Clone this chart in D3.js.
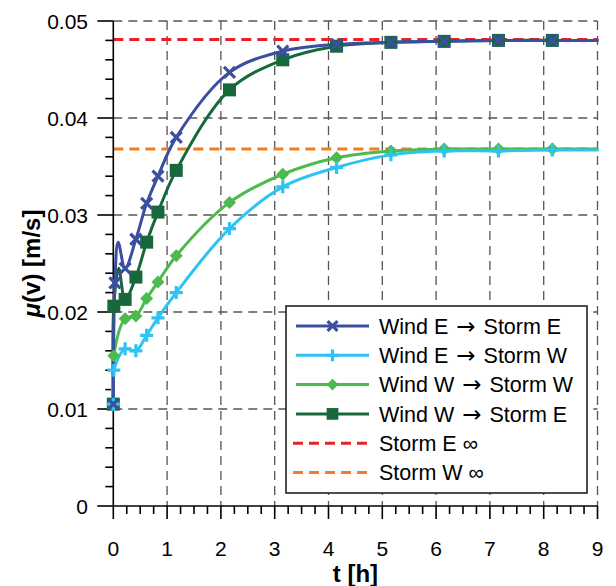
<!DOCTYPE html>
<html>
<head>
<meta charset="utf-8">
<script src="https://cdn.jsdelivr.net/npm/d3@7"></script>
<style>
  html, body { margin: 0; padding: 0; background: #fff; }
  svg { display: block; font-family: "Liberation Sans", Arial, sans-serif; }
</style>
</head>
<body>
<svg id="chart" width="616" height="586"></svg>
<script>
// ---------------- data ----------------
const seriesNames = ["Wind E \u2192 Storm E", "Wind E \u2192 Storm W", "Wind W \u2192 Storm W", "Wind W \u2192 Storm E"];
const refNames = ["Storm E \u221e", "Storm W \u221e"];
const refValues = [0.0481, 0.0368];

// time points (h)
const tEE = [0, 0.03, 0.09, 0.22, 0.42, 0.62, 0.83, 1.17, 2.16, 3.15, 4.15, 5.16, 6.15, 7.16, 8.16, 9.16];
const vEE = [0.0105, 0.0230, 0.0272, 0.0245, 0.0275, 0.0312, 0.0340, 0.0380, 0.0447, 0.0469, 0.0476, 0.0478, 0.0479, 0.0480, 0.0480, 0.0480];
const mEE = [true, true, false, true, true, true, true, true, true, true, true, true, true, true, true, true];

const tEW = [0, 0.01, 0.22, 0.42, 0.62, 0.83, 1.17, 2.16, 3.15, 4.15, 5.16, 6.15, 7.16, 8.16, 9.16];
const vEW = [0.0105, 0.0140, 0.0162, 0.0160, 0.0176, 0.0194, 0.0220, 0.0286, 0.0329, 0.0349, 0.0362, 0.0366, 0.0366, 0.0367, 0.0367];

const tWW = [0, 0.01, 0.22, 0.42, 0.62, 0.83, 1.17, 2.16, 3.15, 4.15, 5.16, 6.15, 7.16, 8.16, 9.16];
const vWW = [0.0105, 0.0155, 0.0193, 0.0196, 0.0214, 0.0231, 0.0258, 0.0313, 0.0342, 0.0359, 0.0366, 0.0368, 0.0368, 0.0368, 0.0368];

const tWE = [0, 0.01, 0.10, 0.22, 0.42, 0.62, 0.83, 1.17, 2.16, 3.15, 4.15, 5.16, 6.15, 7.16, 8.16, 9.16];
const vWE = [0.0105, 0.0206, 0.0245, 0.0213, 0.0236, 0.0272, 0.0303, 0.0346, 0.0429, 0.0460, 0.0474, 0.0478, 0.0479, 0.0480, 0.0480, 0.0480];
const mWE = [true, true, false, true, true, true, true, true, true, true, true, true, true, true, true, true];

const xTicks = [0, 1, 2, 3, 4, 5, 6, 7, 8, 9];
const yTicks = [0, 0.01, 0.02, 0.03, 0.04, 0.05];

// ---------------- layout ----------------
const svg = d3.select("#chart");
const pLeft = 113.3, pRight = 597.5, pTop = 21, pBottom = 506;
const x = d3.scaleLinear().domain([0, 9]).range([pLeft, pRight]);
const y = d3.scaleLinear().domain([0, 0.05]).range([pBottom, pTop]);

const colors = { EE: "#3b4fa0", EW: "#2ec4f1", WW: "#4cba4c", WE: "#17683a", refE: "#e8212b", refW: "#f47b22" };

const mk = (ts, vs, ms) => ts.map((t, i) => ({ t, v: vs[i], m: ms ? ms[i] : true }));
const series = [
  { key: "WE", name: seriesNames[3], data: mk(tWE, vWE, mWE), color: colors.WE, marker: "square" },
  { key: "WW", name: seriesNames[2], data: mk(tWW, vWW), color: colors.WW, marker: "diamond" },
  { key: "EW", name: seriesNames[1], data: mk(tEW, vEW), color: colors.EW, marker: "plus" },
  { key: "EE", name: seriesNames[0], data: mk(tEE, vEE, mEE), color: colors.EE, marker: "x" }
];

// clip only on the right (points beyond t = 9 are cut off)
svg.append("defs").append("clipPath").attr("id", "plotclip")
  .append("rect").attr("x", pLeft - 12).attr("y", pTop - 2).attr("width", pRight - pLeft + 13).attr("height", pBottom - pTop + 14);

// grid
const grid = svg.append("g");
grid.selectAll(".gx").data(xTicks.filter(d => d > 0)).enter().append("line")
  .attr("x1", d => x(d)).attr("x2", d => x(d)).attr("y1", pTop).attr("y2", pBottom)
  .attr("stroke", "#555").attr("stroke-width", 1.3).attr("stroke-dasharray", "9,6");
grid.selectAll(".gy").data(yTicks.filter(d => d > 0)).enter().append("line")
  .attr("x1", pLeft).attr("x2", pRight).attr("y1", d => y(d)).attr("y2", d => y(d))
  .attr("stroke", "#555").attr("stroke-width", 1.3).attr("stroke-dasharray", "9,6");

// reference lines
const refColors = [colors.refE, colors.refW];
svg.append("g").selectAll("line").data(refValues).enter().append("line")
  .attr("x1", pLeft).attr("x2", pRight).attr("y1", d => y(d)).attr("y2", d => y(d))
  .attr("stroke", (d, i) => refColors[i]).attr("stroke-width", 3).attr("stroke-dasharray", "10,6");

// axes lines (under the series)
const ax = svg.append("g");
ax.append("line").attr("x1", pLeft).attr("x2", pLeft).attr("y1", pTop).attr("y2", pBottom).attr("stroke", "#000").attr("stroke-width", 1.6);
ax.append("line").attr("x1", pLeft).attr("x2", pRight).attr("y1", pBottom).attr("y2", pBottom).attr("stroke", "#000").attr("stroke-width", 1.6);

// marker drawing
function drawMarker(g, type, color, cx, cy, s) {
  s = s || 1;
  if (type === "square") {
    const h = 6.5 * s;
    g.append("rect").attr("x", cx - h).attr("y", cy - h).attr("width", 2 * h).attr("height", 2 * h).attr("fill", color);
  } else if (type === "diamond") {
    const h = 6.5 * s;
    g.append("path").attr("d", `M${cx},${cy - h}L${cx + h},${cy}L${cx},${cy + h}L${cx - h},${cy}Z`).attr("fill", color);
  } else if (type === "plus") {
    const h = 6.5 * s;
    g.append("path").attr("d", `M${cx - h},${cy}L${cx + h},${cy}M${cx},${cy - h}L${cx},${cy + h}`)
      .attr("stroke", color).attr("stroke-width", 3.2).attr("fill", "none");
  } else if (type === "x") {
    const h = 5.5 * s;
    g.append("path").attr("d", `M${cx - h},${cy - h}L${cx + h},${cy + h}M${cx - h},${cy + h}L${cx + h},${cy - h}`)
      .attr("stroke", color).attr("stroke-width", 3.2).attr("fill", "none");
  }
}

const line = d3.line().x(d => x(d.t)).y(d => y(d.v)).curve(d3.curveCatmullRom.alpha(0.5));
const plot = svg.append("g").attr("clip-path", "url(#plotclip)");
series.forEach(s => {
  const g = plot.append("g");
  g.append("path").datum(s.data).attr("d", line).attr("fill", "none")
    .attr("stroke", s.color).attr("stroke-width", 3).attr("stroke-linejoin", "round");
});
series.forEach(s => {
  const g = plot.append("g");
  s.data.filter(d => d.m).forEach(d => drawMarker(g, s.marker, s.color, x(d.t), y(d.v)));
});

// ticks
const xMinor = d3.range(0, 9.001, 0.25).filter(d => Math.abs(d - Math.round(d)) > 1e-6);
const yMinor = d3.range(0, 0.05001, 0.002).filter(d => Math.abs(d * 100 - Math.round(d * 100)) > 1e-6);

ax.selectAll(".xmaj").data(xTicks).enter().append("line")
  .attr("x1", d => x(d)).attr("x2", d => x(d)).attr("y1", pBottom).attr("y2", pBottom + 13)
  .attr("stroke", "#000").attr("stroke-width", 1.6);
ax.selectAll(".xmin").data(xMinor).enter().append("line")
  .attr("x1", d => x(d)).attr("x2", d => x(d)).attr("y1", pBottom).attr("y2", pBottom + 8)
  .attr("stroke", "#000").attr("stroke-width", 1.6);
ax.selectAll(".ymaj").data(yTicks).enter().append("line")
  .attr("x1", pLeft - 16).attr("x2", pLeft).attr("y1", d => y(d)).attr("y2", d => y(d))
  .attr("stroke", "#000").attr("stroke-width", 1.6);
ax.selectAll(".ymin").data(yMinor).enter().append("line")
  .attr("x1", pLeft - 8).attr("x2", pLeft).attr("y1", d => y(d)).attr("y2", d => y(d))
  .attr("stroke", "#000").attr("stroke-width", 1.6);

const yfmt = d => d === 0 ? "0" : d3.format(".2f")(d);
ax.selectAll(".ylab").data(yTicks).enter().append("text")
  .attr("x", 88).attr("y", d => y(d)).attr("dy", "0.36em").attr("text-anchor", "end")
  .attr("font-size", 21).attr("fill", "#000").text(yfmt);
ax.selectAll(".xlab").data(xTicks).enter().append("text")
  .attr("x", d => x(d)).attr("y", 556).attr("text-anchor", "middle")
  .attr("font-size", 21).attr("fill", "#000").text(d => d);

// axis titles
svg.append("text").attr("x", (pLeft + pRight) / 2).attr("y", 582).attr("text-anchor", "middle")
  .attr("font-size", 24).attr("font-weight", "bold").text("t [h]");
const yt = svg.append("text").attr("transform", `translate(40,${(pTop + pBottom) / 2}) rotate(-90)`)
  .attr("text-anchor", "middle").attr("font-size", 24).attr("font-weight", "bold");
yt.append("tspan").attr("font-style", "italic").text("\u03bc");
yt.append("tspan").text("(v) [m/s]");

// legend
const lg = svg.append("g");
const lx = 286, ly = 306, lw = 301, lh = 187;
lg.append("rect").attr("x", lx).attr("y", ly).attr("width", lw).attr("height", lh)
  .attr("fill", "#fff").attr("stroke", "#222").attr("stroke-width", 1.6);
const legendItems = [
  { name: seriesNames[0], color: colors.EE, marker: "x", dash: null },
  { name: seriesNames[1], color: colors.EW, marker: "plus", dash: null },
  { name: seriesNames[2], color: colors.WW, marker: "diamond", dash: null },
  { name: seriesNames[3], color: colors.WE, marker: "square", dash: null },
  { name: refNames[0], color: colors.refE, marker: null, dash: "10,6" },
  { name: refNames[1], color: colors.refW, marker: null, dash: "10,6" }
];
legendItems.forEach((it, i) => {
  const cy = 326 + i * 29.3;
  const g = lg.append("g");
  g.append("line").attr("x1", it.dash ? 293 : 296).attr("x2", 369).attr("y1", cy).attr("y2", cy)
    .attr("stroke", it.color).attr("stroke-width", 3).attr("stroke-dasharray", it.dash);
  if (it.marker) drawMarker(g, it.marker, it.color, 332.5, cy, 0.9);
  const txt = g.append("text").attr("x", 379).attr("y", cy).attr("dy", "0.36em").attr("font-size", 21.5).attr("fill", "#000");
  // render the arrow with a font whose arrow glyph is wide, like the reference
  let afterArrow = false;
  it.name.split(/(\u2192)/).forEach(part => {
    if (!part) return;
    const ts = txt.append("tspan").text(part);
    if (part === "\u2192") {
      ts.attr("font-family", "DejaVu Sans").attr("font-size", 23).attr("dx", 2);
      afterArrow = true;
    } else if (afterArrow) {
      ts.attr("dx", 2);
    }
  });
});
</script>
</body>
</html>
